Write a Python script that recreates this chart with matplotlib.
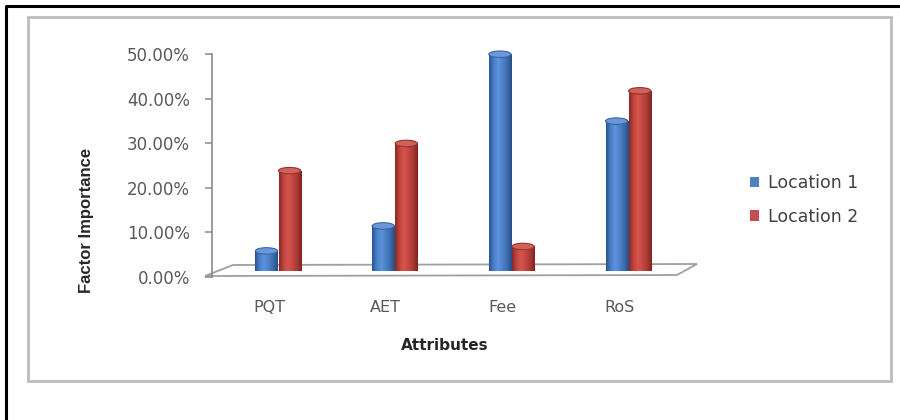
import matplotlib
matplotlib.use("Agg")
import matplotlib.pyplot as plt
import numpy as np
from matplotlib.patches import Ellipse, Patch, Polygon, Rectangle
from matplotlib.lines import Line2D
from matplotlib.colors import LinearSegmentedColormap
from matplotlib.ticker import PercentFormatter
import matplotlib.transforms as mtransforms

# Data
categories = ["PQT", "AET", "Fee", "RoS"]
series_names = ["Location 1", "Location 2"]
location1 = [0.045, 0.101, 0.486, 0.336]
location2 = [0.225, 0.286, 0.055, 0.404]
y_ticks = [0.0, 0.1, 0.2, 0.3, 0.4, 0.5]

W, H = 900, 420
fig = plt.figure(figsize=(W / 100, H / 100), dpi=100)
fig.patch.set_facecolor("white")


def fx(px):
    return px / W


def fy(py):
    return 1 - py / H


# Page frame and chart-area border
fig.add_artist(Line2D([fx(6), fx(6), fx(900)], [fy(420), fy(6), fy(6)],
                      color="black", lw=2.2, zorder=-2))
fig.add_artist(Rectangle((fx(28), fy(381)), fx(891) - fx(28), fy(17) - fy(381),
                         facecolor="none", edgecolor="#bcbcbc", lw=2.0, zorder=-2))

# 3-D style floor
floor = Polygon([(fx(205), fy(276)), (fx(233), fy(265)), (fx(697), fy(264)), (fx(677), fy(275))],
                closed=True, facecolor="white", edgecolor="#a0a0a0", lw=1.3, zorder=-1)
fig.add_artist(floor)

# Front value axis
ax_axis = fig.add_axes([fx(212), fy(277), (697 - 212) / W, 223 / H])
ax_axis.patch.set_visible(False)
ax_axis.set_ylim(0, 0.5)
ax_axis.set_xlim(0, 1)
for side in ["top", "right", "bottom"]:
    ax_axis.spines[side].set_visible(False)
ax_axis.spines["left"].set_color("#8a8a8a")
ax_axis.spines["left"].set_linewidth(1.2)
ax_axis.set_xticks([])
ax_axis.set_yticks(y_ticks)
ax_axis.yaxis.set_major_formatter(PercentFormatter(1.0, decimals=2))
ax_axis.tick_params(axis="y", length=5, width=1.1, color="#8a8a8a", pad=11,
                    labelsize=12, labelcolor="#595959")

# Bars
ax = fig.add_axes([fx(212), fy(271), (697 - 212) / W, 223 / H])
ax.patch.set_visible(False)
ax.set_xlim(-0.566, 3.59)
ax.set_ylim(0, 0.5)
for side in ax.spines.values():
    side.set_visible(False)
ax.set_yticks([])
ax.set_xticks(range(len(categories)))
ax.set_xticklabels(categories)
ax.tick_params(axis="x", length=0, pad=21, labelsize=11.5, labelcolor="#595959")
shift = mtransforms.ScaledTranslation(-9 / 100, 0, fig.dpi_scale_trans)
for lab in ax.get_xticklabels():
    lab.set_transform(lab.get_transform() + shift)

blue_cmap = LinearSegmentedColormap.from_list(
    "cyl_blue", ["#2b538c", "#4a80c9", "#5d93dc", "#4d82c6", "#3b6cae", "#284d86"])
red_cmap = LinearSegmentedColormap.from_list(
    "cyl_red", ["#8a2825", "#c0463f", "#d5554d", "#c44641", "#a93a35", "#812321"])
styles = [
    (location1, blue_cmap, "#4a7cc0", "#6b98dc", "#3a64a0", -0.099),
    (location2, red_cmap, "#b8433e", "#d0625b", "#963330", 0.099),
]

bar_w = 0.19
ell_h = 0.0145
grad = np.linspace(0, 1, 64).reshape(1, -1)

for vals, cmap, base, top_c, edge_c, off in styles:
    for i, v in enumerate(vals):
        x = i + off
        bottom_cap = Ellipse((x, 0), bar_w, ell_h, facecolor=edge_c, edgecolor="none", zorder=2)
        ax.add_patch(bottom_cap)
        bars = ax.bar(x, v, width=bar_w, color=base, zorder=3)
        patch = bars.patches[0]
        img = ax.imshow(grad, extent=(x - bar_w / 2, x + bar_w / 2, 0, v), aspect="auto",
                        cmap=cmap, zorder=4, interpolation="bilinear")
        img.set_clip_path(patch)
        top_cap = Ellipse((x, v), bar_w, ell_h, facecolor=top_c, edgecolor=edge_c,
                          lw=0.8, zorder=5)
        ax.add_patch(top_cap)

ax.set_xlim(-0.566, 3.59)
ax.set_ylim(0, 0.5)

# Axis titles
fig.text(fx(86), fy(220), "Factor Importance", rotation=90, ha="center", va="center",
         fontweight="bold", fontsize=12, color="#262626",
         family=["Liberation Sans", "DejaVu Sans"])
fig.text(fx(445), fy(345), "Attributes", ha="center", va="center",
         fontweight="bold", fontsize=11, color="#262626")

# Legend
handles = [Patch(facecolor="#4f81bd", edgecolor="none"),
           Patch(facecolor="#c0504d", edgecolor="none")]
fig.legend(handles, series_names, loc="center left", bbox_to_anchor=(fx(734), fy(200)),
           frameon=False, fontsize=12.5, handlelength=0.55, handleheight=0.55,
           handletextpad=0.5, labelspacing=0.9, labelcolor="#404040")

fig.savefig("out.png", dpi=100)
